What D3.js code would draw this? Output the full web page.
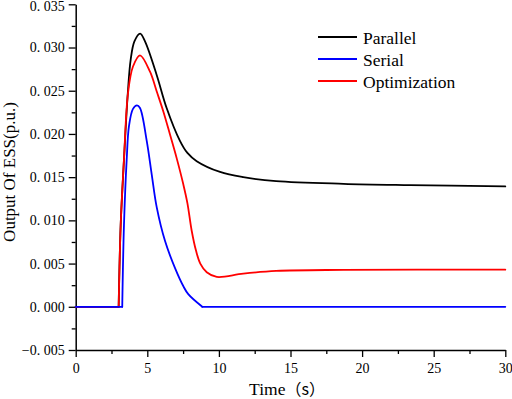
<!DOCTYPE html>
<html>
<head>
<meta charset="utf-8">
<script src="https://cdn.jsdelivr.net/npm/d3@7"></script>
<style>
  html, body { margin: 0; padding: 0; background: #fff; }
  svg { display: block; }
  text { font-family: "Liberation Serif", "Times New Roman", serif; fill: #000; }
</style>
</head>
<body>
<div id="chart"></div>
<script>
// ---- data ----
const seriesNames = ["Parallel", "Serial", "Optimization"];
const seriesColors = ["#000000", "#0000ff", "#ff0000"];

const parallelT = [0, 3.0, 3.14, 3.37, 3.65, 3.84, 4.1, 4.5, 4.84, 5.66, 6.35, 7.28, 7.8, 8.45, 10.08, 11.7, 14.0, 18.7, 23.35, 30];
const parallelV = [0, 0, 0.0094, 0.0170, 0.0250, 0.0286, 0.0307, 0.0316, 0.0307, 0.0268, 0.0230, 0.0192, 0.0178, 0.01685, 0.0156, 0.0150, 0.01454, 0.01423, 0.01408, 0.01393];

const serialT = [0, 3.25, 3.37, 3.56, 3.72, 4.0, 4.28, 4.49, 4.96, 5.31, 5.66, 6.24, 6.93, 7.51, 7.86, 8.84, 30];
const serialV = [0, 0, 0.0094, 0.0170, 0.0209, 0.0229, 0.0233, 0.0230, 0.0192, 0.0153, 0.0115, 0.0076, 0.0045, 0.0024, 0.00146, 0, 0];

const optimT = [0, 3.0, 3.14, 3.37, 3.65, 4.0, 4.49, 5.19, 5.66, 6.12, 6.59, 7.05, 7.51, 7.8, 8.1, 8.4, 8.7, 9.15, 9.85, 11.7, 14.0, 18.7, 30];
const optimV = [0, 0, 0.0094, 0.0170, 0.0247, 0.0278, 0.0291, 0.0272, 0.0249, 0.0226, 0.0199, 0.0172, 0.0142, 0.0120, 0.0088, 0.0065, 0.0050, 0.0040, 0.00346, 0.00384, 0.00415, 0.00427, 0.0043];

const xTicks = [0, 5, 10, 15, 20, 25, 30];
const xMinorTicks = [2.5, 7.5, 12.5, 17.5, 22.5, 27.5];
const yTicks = [-0.005, 0, 0.005, 0.010, 0.015, 0.020, 0.025, 0.030, 0.035];
const yMinorTicks = [-0.0025, 0.0025, 0.0075, 0.0125, 0.0175, 0.0225, 0.0275, 0.0325];

const xLabelMain = "Time";
const xLabelUnit = "（s）";
const yLabel = "Output Of ESS(p.u.)";

// ---- drawing ----
const W = 512, H = 399;
const svg = d3.select("#chart").append("svg").attr("width", W).attr("height", H);

const x = d3.scaleLinear().domain([0, 30]).range([75.7, 505.3]);
const y = d3.scaleLinear().domain([-0.005, 0.035]).range([350, 4.3]);

const yFmt = v => {
  const a = Math.abs(v).toFixed(3);
  return (v < -1e-9 ? "\u2212" : "") + a.replace(".", ". ");
};

// minor ticks
svg.append("g").attr("transform", `translate(0,${y(-0.005)})`)
  .call(d3.axisBottom(x).tickValues(xMinorTicks).tickSize(4).tickSizeOuter(0).tickFormat(""))
  .call(g => g.select(".domain").remove())
  .call(g => g.selectAll("line").attr("stroke-width", 1.3));
svg.append("g").attr("transform", `translate(${x(0)},0)`)
  .call(d3.axisLeft(y).tickValues(yMinorTicks).tickSize(4).tickSizeOuter(0).tickFormat(""))
  .call(g => g.select(".domain").remove())
  .call(g => g.selectAll("line").attr("stroke-width", 1.3));

// major axes
const xAxis = svg.append("g").attr("transform", `translate(0,${y(-0.005)})`)
  .call(d3.axisBottom(x).tickValues(xTicks).tickSize(7).tickSizeOuter(0).tickFormat(d3.format("d")));
xAxis.attr("font-family", null);
xAxis.select(".domain").attr("stroke-width", 1.5);
xAxis.selectAll("line").attr("stroke-width", 1.3);
xAxis.selectAll("text").attr("y", 23).attr("dy", 0)
  .style("font-family", '"Liberation Serif", serif').style("font-size", "14px");

const yAxis = svg.append("g").attr("transform", `translate(${x(0)},0)`)
  .call(d3.axisLeft(y).tickValues(yTicks).tickSize(7).tickSizeOuter(0).tickFormat(yFmt));
yAxis.attr("font-family", null);
yAxis.select(".domain").attr("stroke-width", 1.5);
yAxis.selectAll("line").attr("stroke-width", 1.3);
yAxis.selectAll("text").attr("x", -11)
  .style("font-family", '"Liberation Serif", serif').style("font-size", "14px")
  .attr("dy", d => d === yTicks[yTicks.length - 1] ? "0.45em" : "0.32em");

// axis titles
const xt = svg.append("text").attr("x", 287).attr("y", 395).attr("text-anchor", "middle")
  .style("font-size", "17.5px");
xt.append("tspan").style("font-family", '"Liberation Serif", serif').text(xLabelMain);
xt.append("tspan").style("font-family", '"Noto Sans CJK SC", sans-serif').style("font-size", "16px").text(xLabelUnit);
svg.append("text").attr("transform", "translate(15,172) rotate(-90)").attr("text-anchor", "middle")
  .style("font-size", "17px").text(yLabel);

// series: flat zero parts drawn straight, humps smooth
const seriesData = [
  parallelT.map((t, i) => [t, parallelV[i]]),
  serialT.map((t, i) => [t, serialV[i]]),
  optimT.map((t, i) => [t, optimV[i]])
];

const smooth = d3.line().x(d => x(d[0])).y(d => y(d[1])).curve(d3.curveCatmullRom.alpha(0.5));
const straight = d3.line().x(d => x(d[0])).y(d => y(d[1]));

const plot = svg.append("g");
[0, 2, 1].forEach(si => {
  const pts = seriesData[si];
  const first = pts.findIndex(p => p[1] !== 0);
  const last = pts.length - 1 - [...pts].reverse().findIndex(p => p[1] !== 0);
  const lead = pts.slice(0, first);
  const hump = pts.slice(first - 1, last + 2);
  const trail = pts.slice(last + 1);
  const segs = [];
  if (lead.length > 1) segs.push(["s", lead]);
  segs.push(["c", hump]);
  if (trail.length > 1) segs.push(["s", trail]);
  segs.forEach(([k, d]) => {
    plot.append("path").attr("d", k === "s" ? straight(d) : smooth(d))
      .attr("fill", "none").attr("stroke", seriesColors[si])
      .attr("stroke-width", 1.8).attr("stroke-linejoin", "round").attr("stroke-linecap", "round");
  });
});

// legend
const legY = [37, 59, 81];
const leg = svg.append("g");
seriesNames.forEach((n, i) => {
  leg.append("line").attr("x1", 318).attr("x2", 357).attr("y1", legY[i]).attr("y2", legY[i])
    .attr("stroke", seriesColors[i]).attr("stroke-width", 1.8);
  leg.append("text").attr("x", 363).attr("y", legY[i] + 6.5).style("font-size", "17.5px").text(n);
});
</script>
</body>
</html>
